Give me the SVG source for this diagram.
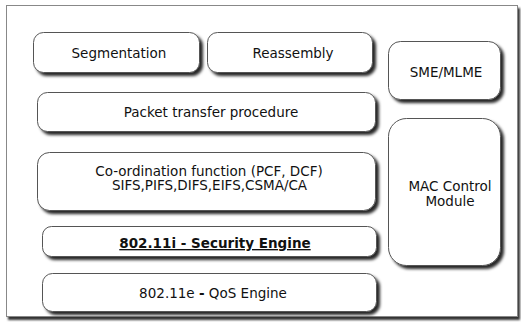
<svg xmlns="http://www.w3.org/2000/svg" width="521" height="323" viewBox="0 0 521 323">
<defs>
<filter id="sh" x="-10%" y="-10%" width="130%" height="140%">
<feDropShadow dx="3" dy="3" stdDeviation="1.8" flood-color="#000" flood-opacity="0.85"/>
</filter>
<filter id="fsh" x="-5%" y="-5%" width="110%" height="110%">
<feDropShadow dx="2" dy="3" stdDeviation="0.8" flood-color="#000" flood-opacity="0.8"/>
</filter>
</defs>
<style>
.b{fill:#fff;stroke:#555;stroke-width:1;filter:url(#sh)}
.t{font-family:"DejaVu Sans",Verdana,sans-serif;font-size:13.5px;fill:#111;text-anchor:middle}
</style>
<rect x="6.5" y="5.5" width="511" height="311" fill="#fff" stroke="#888" stroke-width="1" filter="url(#fsh)"/>
<g id="segmentation"><rect class="b" x="33.5" y="32.5" width="166" height="40" rx="10"/><text class="t" x="119" y="57.5">Segmentation</text></g>
<g id="reassembly"><rect class="b" x="207.5" y="32.5" width="165" height="40" rx="10"/><text class="t" x="293" y="57.5">Reassembly</text></g>
<g id="sme"><rect class="b" x="388.5" y="41.5" width="112" height="58" rx="12"/><text class="t" x="446" y="76.5">SME/MLME</text></g>
<g id="packet"><rect class="b" x="37.5" y="92.5" width="338" height="39" rx="10"/><text class="t" x="211" y="117">Packet transfer procedure</text></g>
<g id="mac"><rect class="b" x="388.5" y="118.5" width="112" height="147" rx="18"/><text class="t" x="450" y="191">MAC Control</text><text class="t" x="450" y="205.5">Module</text></g>
<g id="coord"><rect class="b" x="37.5" y="152.5" width="338" height="58" rx="12"/><text class="t" x="209" y="175.5">Co-ordination function (PCF, DCF)</text><text class="t" x="209.5" y="190">SIFS,PIFS,DIFS,EIFS,CSMA/CA</text></g>
<g id="security"><rect class="b" x="42.5" y="226.5" width="334" height="30" rx="9"/><text class="t" x="215" y="248" font-weight="bold" text-decoration="underline">802.11i - Security Engine</text></g>
<g id="qos"><rect class="b" x="42.5" y="273.5" width="334" height="38" rx="10"/><text class="t" x="213" y="297.5">802.11e <tspan font-weight="bold">-</tspan> QoS Engine</text></g>
<g id="connectors"></g>
</svg>
